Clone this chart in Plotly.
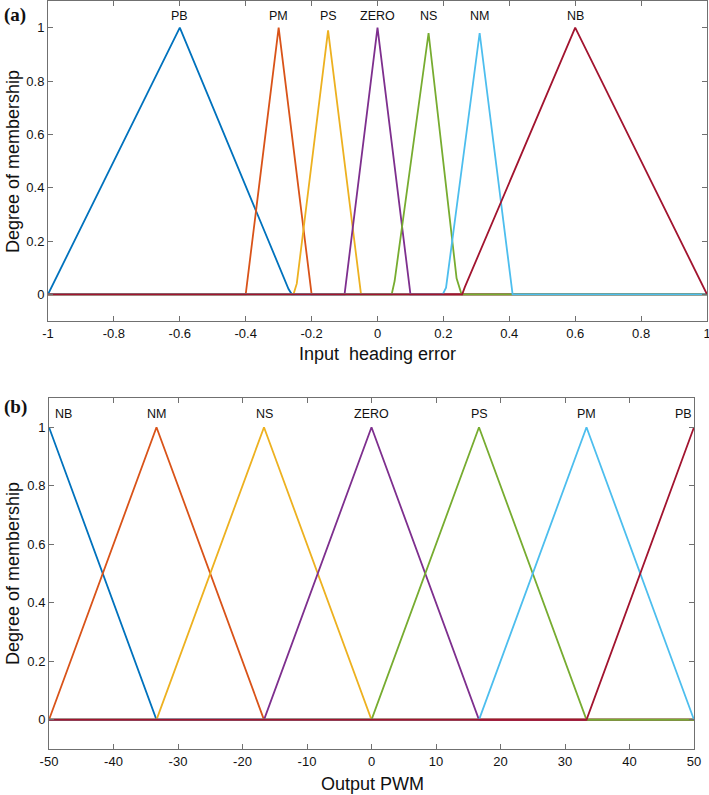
import plotly.graph_objects as go

# --- Data: (a) input heading error membership functions ---
in_names = ["PB", "PM", "PS", "ZERO", "NS", "NM", "NB"]
pb_x = [-1, -0.6, -0.27, -0.26, 1]
pb_y = [0, 1, 0.02, 0, 0]
pm_x = [-1, -0.4, -0.3, -0.2, 1]
pm_y = [0, 0, 1, 0, 0]
ps_x = [-1, -0.255, -0.245, -0.15, -0.05, 1]
ps_y = [0, 0, 0.04, 0.99, 0, 0]
zero_x = [-1, -0.1, 0, 0.1, 1]
zero_y = [0, 0, 1, 0, 0]
ns_x = [-1, 0.043, 0.052, 0.155, 0.24, 0.255, 1]
ns_y = [0, 0, 0.05, 0.98, 0.06, 0, 0]
nm_x = [-1, 0.198, 0.208, 0.31, 0.41, 1]
nm_y = [0, 0, 0.025, 0.98, 0, 0]
nb_x = [-1, 0.257, 0.265, 0.6, 1]
nb_y = [0, 0, 0.027, 1, 0]
in_label_x = [-0.6, -0.3, -0.15, 0, 0.155, 0.31, 0.6]

in_tickvals = [-1, -0.8, -0.6, -0.4, -0.2, 0, 0.2, 0.4, 0.6, 0.8, 1]
in_ticktext = ["-1", "-0.8", "-0.6", "-0.4", "-0.2", "0", "0.2", "0.4", "0.6", "0.8", "1"]

# --- Data: (b) output PWM membership functions ---
out_names = ["NB", "NM", "NS", "ZERO", "PS", "PM", "PB"]
s = 50 / 3
out_nb_x = [-50, -50 + s, 50]
out_nb_y = [1, 0, 0]
out_nm_x = [-50, -50 + s, -50 + 2 * s, 50]
out_nm_y = [0, 1, 0, 0]
out_ns_x = [-50, -50 + s, -50 + 2 * s, 0, 50]
out_ns_y = [0, 0, 1, 0, 0]
out_zero_x = [-50, -s, 0, s, 50]
out_zero_y = [0, 0, 1, 0, 0]
out_ps_x = [-50, 0, s, 2 * s, 50]
out_ps_y = [0, 0, 1, 0, 0]
out_pm_x = [-50, s, 2 * s, 50]
out_pm_y = [0, 0, 1, 0]
out_pb_x = [-50, 2 * s, 50]
out_pb_y = [0, 0, 1]
out_label_x = [-47.8, -50 + s, -50 + 2 * s, 0, s, 2 * s, 48.3]

out_tickvals = [-50, -40, -30, -20, -10, 0, 10, 20, 30, 40, 50]
out_ticktext = ["-50", "-40", "-30", "-20", "-10", "0", "10", "20", "30", "40", "50"]

y_tickvals = [0, 0.2, 0.4, 0.6, 0.8, 1]
y_ticktext = ["0", "0.2", "0.4", "0.6", "0.8", "1"]

colors = ["#0072BD", "#D95319", "#EDB120", "#7E2F8E", "#77AC30", "#4DBEEE", "#A2142F"]

W, H = 709, 795


def px(x):
    return x / W


def py(y):
    return 1 - y / H


fig = go.Figure()

in_series = [(pb_x, pb_y), (pm_x, pm_y), (ps_x, ps_y), (zero_x, zero_y),
             (ns_x, ns_y), (nm_x, nm_y), (nb_x, nb_y)]
for (xs, ys), name, c in zip(in_series, in_names, colors):
    fig.add_trace(go.Scatter(x=xs, y=ys, mode="lines", name=name,
                             line=dict(color=c, width=1.8),
                             xaxis="x", yaxis="y", showlegend=False))

out_series = [(out_nb_x, out_nb_y), (out_nm_x, out_nm_y), (out_ns_x, out_ns_y),
              (out_zero_x, out_zero_y), (out_ps_x, out_ps_y), (out_pm_x, out_pm_y),
              (out_pb_x, out_pb_y)]
for (xs, ys), name, c in zip(out_series, out_names, colors):
    fig.add_trace(go.Scatter(x=xs, y=ys, mode="lines", name=name,
                             line=dict(color=c, width=1.8),
                             xaxis="x2", yaxis="y2", showlegend=False))

# MF name labels above the peaks
for name, lx in zip(in_names, in_label_x):
    fig.add_annotation(x=lx, y=1.045, xref="x", yref="y", text=name,
                       showarrow=False, font=dict(size=12.5, color="#111"))
for name, lx in zip(out_names, out_label_x):
    fig.add_annotation(x=lx, y=1.047, xref="x2", yref="y2", text=name,
                       showarrow=False, font=dict(size=12.5, color="#111"))

# panel letters
for label, ytop in [("(a)", 2), ("(b)", 394)]:
    fig.add_annotation(x=px(2), y=py(ytop), xref="paper", yref="paper",
                       xanchor="left", yanchor="top", text="<b>" + label + "</b>",
                       showarrow=False,
                       font=dict(family="Liberation Serif", size=19, color="#111"))

# axis titles
title_font = dict(size=18, color="#111")
for text, cx, cy in [("Input  heading error", 378, 354), ("Output PWM", 372, 784)]:
    fig.add_annotation(x=px(cx), y=py(cy), xref="paper", yref="paper", text=text,
                       xanchor="center", yanchor="middle",
                       showarrow=False, font=title_font)
for cy in [162, 574]:
    fig.add_annotation(x=px(13), y=py(cy), xref="paper", yref="paper",
                       text="Degree of membership", textangle=-90,
                       xanchor="center", yanchor="middle",
                       showarrow=False, font=title_font)

axis_common = dict(showgrid=False, zeroline=False, showline=True, linecolor="#707070",
                   linewidth=1, mirror="ticks", ticks="inside", ticklen=5,
                   tickcolor="#707070", automargin=False, ticklabeloverflow="allow",
                   tickfont=dict(size=13, color="#111"))

fig.update_layout(
    width=W,
    height=H,
    margin=dict(l=0, r=0, t=0, b=0),
    plot_bgcolor="white",
    paper_bgcolor="white",
    font=dict(family="Liberation Sans, Arial, sans-serif", color="#111"),
    xaxis=dict(axis_common, domain=[px(48), px(707)], range=[-1, 1],
               tickvals=in_tickvals, ticktext=in_ticktext, anchor="y"),
    yaxis=dict(axis_common, domain=[py(321), py(1)], range=[-0.1, 1.1],
               tickvals=y_tickvals, ticktext=y_ticktext, anchor="x"),
    xaxis2=dict(axis_common, domain=[px(49), px(694)], range=[-50, 50],
                tickvals=out_tickvals, ticktext=out_ticktext, anchor="y2"),
    yaxis2=dict(axis_common, domain=[py(749), py(398)], range=[-0.1, 1.1],
                tickvals=y_tickvals, ticktext=y_ticktext, anchor="x2"),
)

# the page's default body margin would shift the 709x795 figure out of the window
fig.write_html("out.html", config={"displayModeBar": False},
               post_script="document.body.style.margin = '0px';")
